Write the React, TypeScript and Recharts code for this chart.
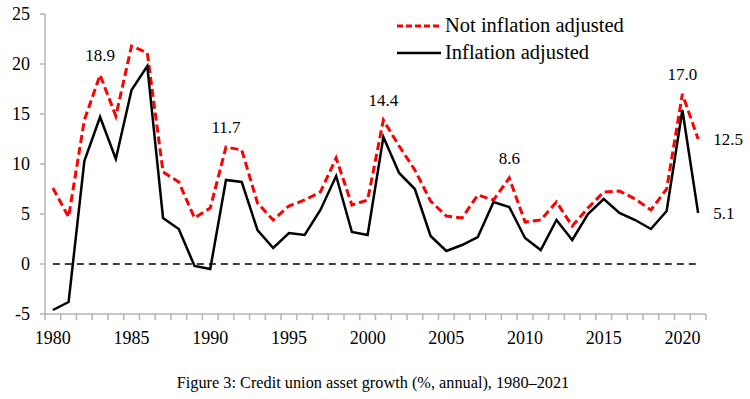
import { LineChart, Line, XAxis, YAxis, ReferenceLine, LabelList } from 'recharts';

const YEARS = [
  1980, 1981, 1982, 1983, 1984, 1985, 1986, 1987, 1988, 1989, 1990, 1991, 1992, 1993,
  1994, 1995, 1996, 1997, 1998, 1999, 2000, 2001, 2002, 2003, 2004, 2005, 2006, 2007,
  2008, 2009, 2010, 2011, 2012, 2013, 2014, 2015, 2016, 2017, 2018, 2019, 2020, 2021,
];

// not inflation adjusted (%)
const NOMINAL = [
  7.6, 4.7, 14.4, 18.9, 14.8, 21.8, 21.1, 9.2, 8.2, 4.6, 5.6, 11.7, 11.4, 6.1,
  4.4, 5.8, 6.4, 7.2, 10.6, 5.9, 6.4, 14.4, 11.8, 9.4, 6.3, 4.8, 4.6, 6.9,
  6.4, 8.6, 4.2, 4.4, 6.2, 3.8, 5.6, 7.2, 7.3, 6.5, 5.4, 7.5, 17.0, 12.5,
];

// inflation adjusted (%)
const REAL = [
  -4.6, -3.8, 10.3, 14.7, 10.5, 17.4, 19.8, 4.6, 3.5, -0.2, -0.5, 8.4, 8.2, 3.4,
  1.6, 3.1, 2.9, 5.4, 8.8, 3.2, 2.9, 12.7, 9.1, 7.5, 2.8, 1.3, 1.9, 2.7,
  6.2, 5.7, 2.6, 1.4, 4.4, 2.4, 5.0, 6.5, 5.1, 4.4, 3.5, 5.3, 15.4, 5.1,
];

const Y_TICKS = [-5, 0, 5, 10, 15, 20, 25];
const NOMINAL_LABELS_ABOVE = [1983, 1991, 2001, 2009, 2020];
const NOMINAL_LABELS_RIGHT = [2021];
const REAL_LABELS_RIGHT = [2021];

const SERIES_NOMINAL = 'Not inflation adjusted';
const SERIES_REAL = 'Inflation adjusted';
const CAPTION = 'Figure 3: Credit union asset growth (%, annual), 1980–2021';

const data = YEARS.map((year, i) => ({ year, nominal: NOMINAL[i], real: REAL[i] }));

// category boundaries, where the tick marks sit
const X_TICKS = [...YEARS.map((y) => y - 0.5), YEARS[YEARS.length - 1] + 0.5];

const FONT = '"Liberation Serif", "Times New Roman", serif';
const AXIS_GREY = '#b4b4b4';
const W = 750;
const H = 399;
const MARGIN = { top: 14, right: 44, left: 0, bottom: 55 };
const Y_AXIS_W = 45;
const STEP = (W - MARGIN.right - Y_AXIS_W) / YEARS.length;

function XTick({ x, y, payload }: any) {
  const yr = payload.value + 0.5;
  if (yr % 5 !== 0 || yr > YEARS[YEARS.length - 1]) return <g />;
  return (
    <text x={x + STEP / 2} y={y + 22} textAnchor="middle" fontSize={18} fontFamily={FONT} fill="#000">
      {yr}
    </text>
  );
}

function makeLabel(above: number[], right: number[]) {
  return (props: any) => {
    const { x, y, index, value } = props;
    const year = YEARS[index];
    const txt = Number(value).toFixed(1);
    if (above.includes(year)) {
      return (
        <text x={x} y={y - 20} dy="0.35em" textAnchor="middle" fontSize={17} fontFamily={FONT} fill="#000">
          {txt}
        </text>
      );
    }
    if (right.includes(year)) {
      return (
        <text x={x + 15} y={y} dy="0.35em" textAnchor="start" fontSize={17} fontFamily={FONT} fill="#000">
          {txt}
        </text>
      );
    }
    return null;
  };
}

export default function App() {
  return (
    <div style={{ position: 'absolute', left: 0, top: 0, width: W, height: H, background: '#fff', fontFamily: FONT }}>
      <LineChart width={W} height={H} data={data} margin={MARGIN}>
        <XAxis
          dataKey="year"
          type="number"
          domain={[1979.5, 2021.5]}
          ticks={X_TICKS}
          interval={0}
          tickSize={6}
          tickMargin={2}
          axisLine={{ stroke: AXIS_GREY, strokeWidth: 1.5 }}
          tickLine={{ stroke: AXIS_GREY, strokeWidth: 1.5 }}
          tick={<XTick />}
          height={30}
        />
        <YAxis
          type="number"
          domain={[-5, 25]}
          ticks={Y_TICKS}
          interval={0}
          width={Y_AXIS_W}
          tickSize={5}
          tickMargin={10}
          axisLine={{ stroke: AXIS_GREY, strokeWidth: 1.5 }}
          tickLine={{ stroke: AXIS_GREY, strokeWidth: 1.5 }}
          tick={{ fontSize: 18, fontFamily: FONT, fill: '#000' }}
        />
        <ReferenceLine
          segment={[{ x: YEARS[0], y: 0 }, { x: YEARS[YEARS.length - 1], y: 0 }]}
          stroke="#000"
          strokeWidth={1.5}
          strokeDasharray="7 5"
        />
        <Line
          type="linear"
          dataKey="nominal"
          name={SERIES_NOMINAL}
          stroke="#ff0000"
          strokeWidth={3}
          strokeDasharray="8 4"
          dot={false}
          isAnimationActive={false}
        >
          <LabelList dataKey="nominal" content={makeLabel(NOMINAL_LABELS_ABOVE, NOMINAL_LABELS_RIGHT)} />
        </Line>
        <Line
          type="linear"
          dataKey="real"
          name={SERIES_REAL}
          stroke="#000"
          strokeWidth={2.5}
          dot={false}
          isAnimationActive={false}
        >
          <LabelList dataKey="real" content={makeLabel([], REAL_LABELS_RIGHT)} />
        </Line>
      </LineChart>

      <div style={{ position: 'absolute', left: 397, top: 12, fontSize: 20.5, color: '#000' }}>
        <div style={{ display: 'flex', alignItems: 'center', height: 27 }}>
          <svg width={44} height={4} style={{ marginRight: 4 }}>
            <line x1={0} y1={2} x2={44} y2={2} stroke="#ff0000" strokeWidth={3} strokeDasharray="6 3" />
          </svg>
          <span>{SERIES_NOMINAL}</span>
        </div>
        <div style={{ display: 'flex', alignItems: 'center', height: 27 }}>
          <svg width={44} height={4} style={{ marginRight: 4 }}>
            <line x1={0} y1={2} x2={44} y2={2} stroke="#000" strokeWidth={2.5} />
          </svg>
          <span>{SERIES_REAL}</span>
        </div>
      </div>

      <div
        style={{
          position: 'absolute',
          left: 0,
          top: 373,
          width: 746,
          textAlign: 'center',
          fontSize: 16.3,
          lineHeight: '20px',
          color: '#000',
        }}
      >
        {CAPTION}
      </div>
    </div>
  );
}
